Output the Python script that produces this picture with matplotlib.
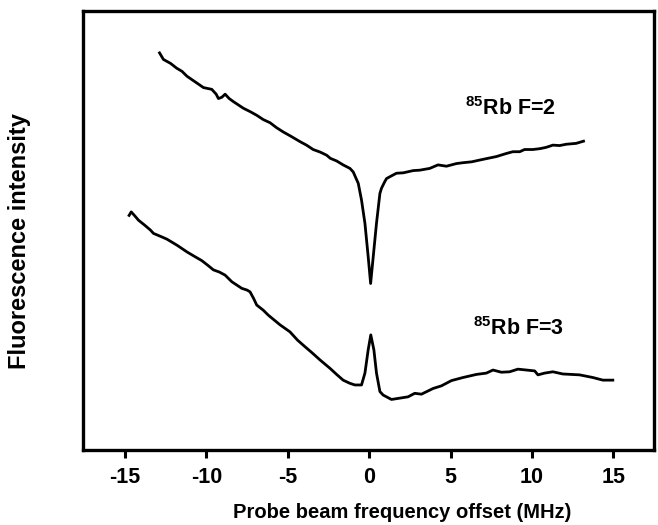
import matplotlib
matplotlib.use("Agg")
import matplotlib.pyplot as plt

f2_x = [-12.88, -12.64, -12.2, -11.82, -11.5, -11.2, -10.69, -10.18, -9.67,
        -9.4, -9.26, -9.05, -8.85, -8.6, -8.34, -7.73, -7.3, -6.91, -6.5,
        -6.09, -5.7, -5.28, -4.8, -4.25, -3.85, -3.44, -3.0, -2.61, -2.39,
        -2.0, -1.60, -1.18, -0.98, -0.67, -0.47, -0.26, -0.06, 0.09, 0.25,
        0.45, 0.66, 0.76, 0.96, 1.07, 1.47, 1.68, 2.10, 2.70, 3.11, 3.72,
        4.23, 4.75, 5.36, 5.77, 6.30, 6.79, 7.30, 7.82, 8.43, 8.83, 9.25,
        9.55, 10.06, 10.50, 10.88, 11.29, 11.70, 12.11, 12.72, 13.17]
f2_y = [90.4, 88.9, 88.0, 86.9, 86.2, 85.1, 83.8, 82.5, 82.1,
        81.0, 80.0, 80.3, 81.0, 80.0, 79.3, 77.8, 77.0, 76.2, 75.2,
        74.5, 73.4, 72.4, 71.4, 70.2, 69.4, 68.4, 67.8, 67.1, 66.4,
        65.8, 64.9, 64.1, 63.3, 60.7, 56.9, 51.6, 44.0, 37.9, 44.0,
        51.6, 58.4, 59.6, 61.1, 61.8, 62.6, 63.0, 63.1, 63.6, 63.7, 64.1,
        64.9, 64.6, 65.2, 65.4, 65.6, 66.0, 66.4, 66.8, 67.5, 67.9, 67.9,
        68.4, 68.4, 68.6, 68.9, 69.4, 69.3, 69.6, 69.8, 70.3]

f3_x = [-14.75, -14.62, -14.40, -14.17, -13.80, -13.45, -13.25, -12.80,
        -12.43, -11.80, -11.20, -10.70, -10.28, -9.90, -9.57, -9.20, -8.85,
        -8.44, -7.83, -7.50, -7.32, -7.10, -6.91, -6.50, -6.20, -5.48,
        -4.87, -4.40, -3.94, -3.50, -3.02, -2.41, -2.00, -1.60, -1.20,
        -0.88, -0.47, -0.26, -0.06, 0.10, 0.29, 0.45, 0.66, 0.86, 1.37,
        1.88, 2.39, 2.80, 3.21, 3.93, 4.44, 5.06, 5.77, 6.59, 7.20, 7.61,
        8.12, 8.63, 9.14, 9.66, 10.17, 10.37, 10.78, 11.29, 11.90, 12.93,
        13.74, 14.36, 14.97]
f3_y = [53.4, 54.2, 53.3, 52.3, 51.2, 50.1, 49.3, 48.6,
        48.0, 46.6, 45.1, 44.0, 43.1, 42.0, 41.0, 40.5, 39.8,
        38.3, 36.8, 36.4, 36.0, 34.5, 33.0, 31.8, 30.7, 28.5,
        26.9, 25.0, 23.5, 22.1, 20.5, 18.6, 17.2, 15.9, 15.2,
        14.8, 14.8, 17.5, 22.8, 26.2, 22.8, 17.5, 13.3, 12.5, 11.5,
        11.8, 12.1, 12.9, 12.7, 14.0, 14.6, 15.8, 16.5, 17.2, 17.5, 18.2,
        17.7, 17.8, 18.4, 18.2, 18.0, 17.1, 17.5, 17.8, 17.3, 17.1,
        16.5, 15.9, 15.9]

XTICKS = [-15, -10, -5, 0, 5, 10, 15]

plt.rcParams.update({
    "font.family": "Liberation Sans",
    "font.weight": "bold",
    "mathtext.fontset": "custom",
    "mathtext.rm": "Liberation Sans:bold",
    "mathtext.bf": "Liberation Sans:bold",
    "mathtext.default": "bf",
})

fig = plt.figure(figsize=(6.58, 5.25), dpi=100)
ax = fig.add_axes([0.1257, 0.1429, 0.8682, 0.8367])

ax.plot(f2_x, f2_y, color="black", lw=2.0, solid_joinstyle="round")
ax.plot(f3_x, f3_y, color="black", lw=2.0, solid_joinstyle="round")

ax.text(5.87, 76.2, "$^{85}$Rb F=2", fontsize=15.5, fontweight="bold",
        ha="left", va="baseline")
ax.text(6.38, 26.2, "$^{85}$Rb F=3", fontsize=15.5, fontweight="bold",
        ha="left", va="baseline")

ax.set_xlim(-17.6, 17.5)
ax.set_ylim(0, 100)
ax.set_xticks(XTICKS)
ax.set_xticklabels([str(t) for t in XTICKS])
ax.set_yticks([])
ax.tick_params(axis="x", direction="out", length=6, width=2.2, pad=6,
               labelsize=15.5)
for s in ax.spines.values():
    s.set_linewidth(2.4)

ax.set_xlabel("Probe beam frequency offset (MHz)", fontsize=14.5,
              fontweight="bold")
ax.xaxis.set_label_coords(0.56, -0.12)
ax.set_ylabel("Fluorescence intensity", fontsize=17, fontweight="bold")
ax.yaxis.set_label_coords(-0.09, 0.476)

fig.savefig("out.png", dpi=100)
